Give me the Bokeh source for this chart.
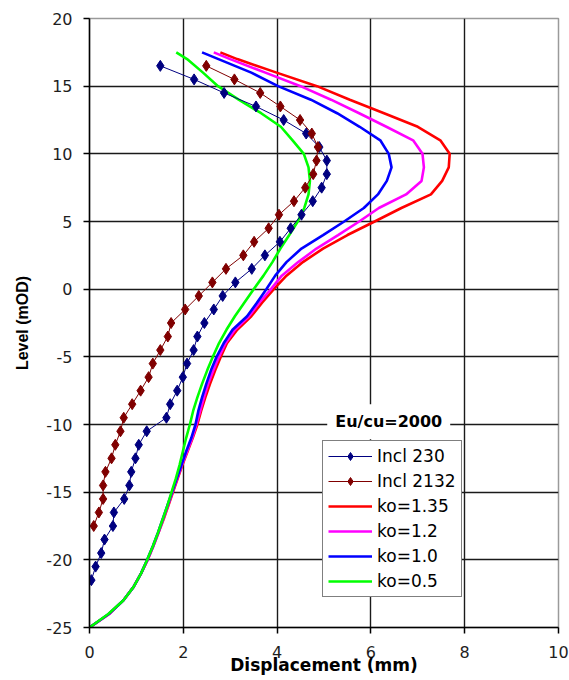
from bokeh.plotting import figure
from bokeh.models import Range1d, FixedTicker, Legend, LegendItem, Label, PrintfTickFormatter
from bokeh.embed import file_html
from bokeh.resources import INLINE

# Inclinometer readings (displacement in mm at level in mOD)
incl230_level = [16.5, 15.5, 14.5, 13.5, 12.5, 11.5, 10.5, 9.5, 8.5, 7.5, 6.5, 5.5, 4.5,
                 3.5, 2.5, 1.5, 0.5, -0.5, -1.5, -2.5, -3.5, -4.5, -5.5, -6.5, -7.5,
                 -8.5, -9.5, -10.5, -11.5, -12.5, -13.5, -14.5, -15.5, -16.5, -17.5,
                 -18.5, -19.5, -20.5, -21.5]
incl230_disp = [1.51, 2.23, 2.87, 3.55, 4.14, 4.62, 4.90, 5.06, 5.06, 4.95, 4.76, 4.52, 4.29,
                4.06, 3.74, 3.46, 3.11, 2.84, 2.65, 2.45, 2.30, 2.22, 2.08, 1.99, 1.87,
                1.72, 1.64, 1.22, 1.05, 0.98, 0.89, 0.85, 0.74, 0.52, 0.50,
                0.32, 0.25, 0.13, 0.04]

incl2132_level = [16.5, 15.5, 14.5, 13.5, 12.5, 11.5, 10.5, 9.5, 8.5, 7.5, 6.5, 5.5, 4.5,
                  3.5, 2.5, 1.5, 0.5, -0.5, -1.5, -2.5, -3.5, -4.5, -5.5, -6.5, -7.5,
                  -8.5, -9.5, -10.5, -11.5, -12.5, -13.5, -14.5, -15.5, -16.5, -17.5]
incl2132_disp = [2.49, 3.09, 3.64, 4.07, 4.49, 4.74, 4.87, 4.84, 4.77, 4.60, 4.36, 4.04, 3.82,
                 3.51, 3.28, 2.91, 2.62, 2.33, 2.04, 1.74, 1.67, 1.51, 1.35, 1.26, 1.09,
                 0.91, 0.73, 0.66, 0.55, 0.47, 0.34, 0.29, 0.29, 0.20, 0.09]

# Predicted profiles for different ko values
model_level = [17.5, 17, 16, 15, 14, 13, 12, 11, 10, 9, 8, 7, 6, 5, 4, 3, 2, 1, 0,
               -1, -2, -3, -4, -5, -6, -7, -8, -9, -10, -11, -12, -13, -14, -15,
               -16, -17, -18, -19, -20, -21, -22, -23, -24, -25]
ko135_disp = [2.79, 3.15, 3.99, 4.85, 5.55, 6.28, 7.00, 7.48, 7.68, 7.66, 7.52, 7.28, 6.65,
              6.08, 5.50, 4.98, 4.55, 4.20, 3.93, 3.68, 3.45, 3.15, 2.93, 2.80, 2.68,
              2.57, 2.47, 2.38, 2.30, 2.20, 2.09, 1.98, 1.88, 1.78, 1.68, 1.58, 1.47,
              1.36, 1.24, 1.10, 0.94, 0.72, 0.42, 0.00]
ko12_disp = [2.65, 3.00, 3.75, 4.50, 5.15, 5.75, 6.33, 6.90, 7.10, 7.13, 7.08, 6.75, 6.17,
             5.75, 5.30, 4.84, 4.45, 4.10, 3.87, 3.62, 3.40, 3.10, 2.90, 2.76, 2.64,
             2.53, 2.44, 2.36, 2.28, 2.19, 2.08, 1.97, 1.87, 1.77, 1.67, 1.57, 1.47,
             1.36, 1.24, 1.10, 0.94, 0.72, 0.42, 0.00]
ko10_disp = [2.40, 2.75, 3.45, 4.02, 4.72, 5.28, 5.76, 6.20, 6.38, 6.44, 6.34, 6.15, 5.85,
             5.43, 4.98, 4.52, 4.20, 3.96, 3.77, 3.57, 3.36, 3.05, 2.86, 2.71, 2.59,
             2.49, 2.40, 2.32, 2.26, 2.17, 2.06, 1.96, 1.86, 1.76, 1.66, 1.56, 1.46,
             1.35, 1.23, 1.10, 0.94, 0.72, 0.41, 0.00]
ko05_disp = [1.85, 2.08, 2.42, 2.74, 3.18, 3.66, 4.08, 4.33, 4.57, 4.67, 4.70, 4.67, 4.58,
             4.44, 4.26, 4.07, 3.90, 3.71, 3.50, 3.30, 3.10, 2.92, 2.76, 2.63, 2.51,
             2.40, 2.30, 2.21, 2.14, 2.06, 1.99, 1.92, 1.84, 1.75, 1.66, 1.56, 1.46,
             1.35, 1.23, 1.10, 0.94, 0.72, 0.40, 0.00]

x_ticks = [0, 2, 4, 6, 8, 10]
y_ticks = [-25, -20, -15, -10, -5, 0, 5, 10, 15, 20]

TICK_FONT = "DejaVu Sans"

p = figure(width=569, height=680, x_range=Range1d(0, 10), y_range=Range1d(-25, 20),
           output_backend="svg", toolbar_location=None,
           min_border_left=89, min_border_right=11, min_border_top=18, min_border_bottom=53)
p.background_fill_color = "white"
p.border_fill_color = "white"
p.outline_line_color = "#9a9a9a"
p.outline_line_width = 1.5

p.xaxis.ticker = FixedTicker(ticks=x_ticks)
p.yaxis.ticker = FixedTicker(ticks=y_ticks)
for ax in (p.xaxis[0], p.yaxis[0]):
    ax.formatter = PrintfTickFormatter(format="%d")
    ax.axis_line_color = "black"
    ax.axis_line_width = 1.5
    ax.major_tick_line_color = "black"
    ax.major_tick_line_width = 1.5
    ax.major_tick_in = 0
    ax.major_tick_out = 6
    ax.minor_tick_line_color = None
    ax.major_label_text_font = TICK_FONT
    ax.major_label_text_font_size = "16px"
    ax.major_label_text_color = "#1e1e1e"
p.xaxis.major_label_standoff = 12
p.yaxis.major_label_standoff = 11

p.xaxis.axis_label = "Displacement (mm)"
p.xaxis.axis_label_text_font = "DejaVu Sans"
p.xaxis.axis_label_text_font_style = "bold"
p.xaxis.axis_label_text_font_size = "17px"
p.xaxis.axis_label_text_color = "black"
p.xaxis.axis_label_standoff = -6

p.yaxis.axis_label = "Level (mOD)"
p.yaxis.axis_label_text_font = "Liberation Sans"
p.yaxis.axis_label_text_font_style = "bold"
p.yaxis.axis_label_text_font_size = "16px"
p.yaxis.axis_label_text_color = "black"
p.yaxis.axis_label_standoff = 12

for g in (p.xgrid[0], p.ygrid[0]):
    g.grid_line_color = "#1a1a1a"
    g.grid_line_width = 1.4
p.xgrid.ticker = FixedTicker(ticks=x_ticks)
p.ygrid.ticker = FixedTicker(ticks=y_ticks)

# model curves
r135 = p.line(ko135_disp, model_level, line_color="#ff0000", line_width=2.6)
r12 = p.line(ko12_disp, model_level, line_color="#ff00ff", line_width=2.6)
r10 = p.line(ko10_disp, model_level, line_color="#0000ff", line_width=2.6)
r05 = p.line(ko05_disp, model_level, line_color="#00ff00", line_width=2.6)

# inclinometer readings
l230 = p.line(incl230_disp, incl230_level, line_color="#000080", line_width=1)
m230 = p.scatter(incl230_disp, incl230_level, marker="diamond", size=11,
                 fill_color="#000080", line_color="#000080")
l2132 = p.line(incl2132_disp, incl2132_level, line_color="#800000", line_width=1)
m2132 = p.scatter(incl2132_disp, incl2132_level, marker="diamond", size=11,
                  fill_color="#800000", line_color="#800000")

legend = Legend(items=[
    LegendItem(label="Incl 230", renderers=[l230, m230]),
    LegendItem(label="Incl 2132", renderers=[l2132, m2132]),
    LegendItem(label="ko=1.35", renderers=[r135]),
    LegendItem(label="ko=1.2", renderers=[r12]),
    LegendItem(label="ko=1.0", renderers=[r10]),
    LegendItem(label="ko=0.5", renderers=[r05]),
], location=(233, 30))
legend.label_text_font = "DejaVu Sans"
legend.label_text_font_size = "17px"
legend.label_text_color = "black"
legend.glyph_width = 44
legend.glyph_height = 20
legend.label_height = 20
legend.label_standoff = 5
legend.spacing = 5
legend.padding = 5
legend.margin = 0
legend.border_line_color = "black"
legend.border_line_width = 1.2
legend.background_fill_color = "white"
legend.background_fill_alpha = 1.0
p.add_layout(legend, "center")

title = Label(x=6.38, y=-9.8, text="Eu/cu=2000", text_align="center", text_baseline="middle",
              text_font="DejaVu Sans", text_font_style="bold", text_font_size="16px",
              text_color="black", background_fill_color="white", background_fill_alpha=1.0,
              padding=8)
p.add_layout(title)

open("out.html", "w").write(file_html(p, INLINE))
